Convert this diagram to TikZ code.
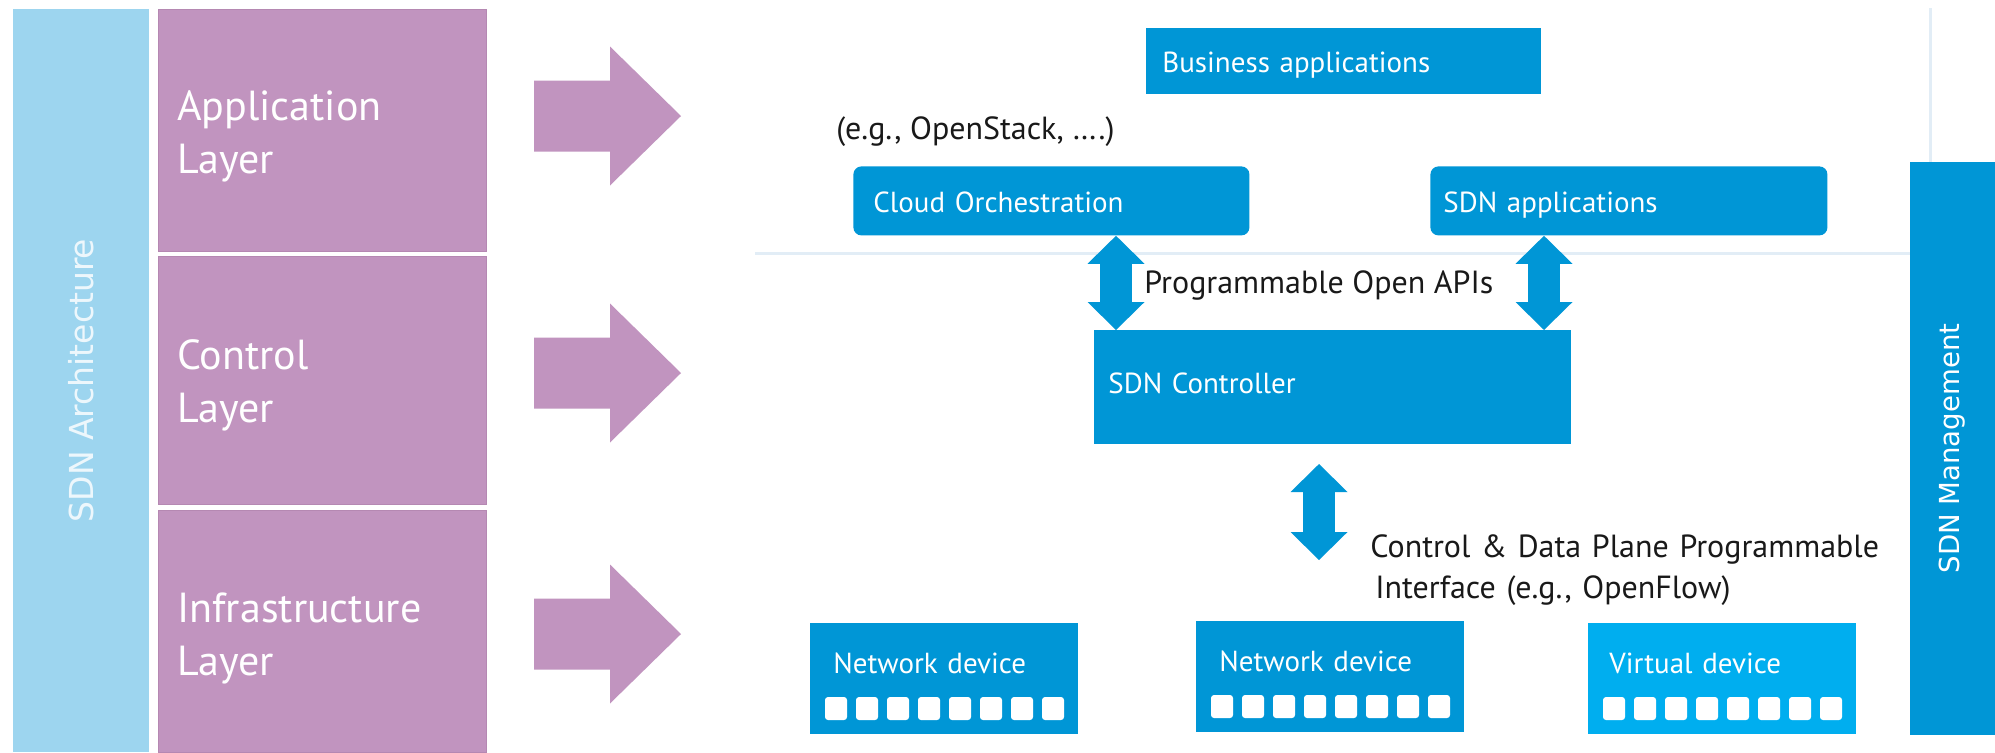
\documentclass[tikz,border=0pt]{standalone}
\usepackage{fontspec}
\setmainfont{PT Sans}
\newfontfamily\vfont{DejaVu Sans}
\usepackage{tikz}
\usetikzlibrary{arrows.meta}

\definecolor{hpblue}{HTML}{0096D6}
\definecolor{virtblue}{HTML}{00AEEF}
\definecolor{layerpurple}{HTML}{C194BF}
\definecolor{layeredge}{HTML}{B588B2}
\definecolor{archblue}{HTML}{9DD5EF}
\definecolor{archtext}{HTML}{EDF7FC}
\definecolor{sepgray}{HTML}{E2EDF6}

\begin{document}
\begin{tikzpicture}[x=0.5pt, y=-0.5pt,
    layerbox/.style={fill=layerpurple, draw=layeredge, line width=0.4pt, text=white,
      font=\fontsize{21}{26.5}\selectfont, anchor=north west, inner xsep=9.5pt,
      inner ysep=0pt, text width=145pt, align=left},
    appbox/.style={fill=hpblue, text=white, font=\fontsize{14.5}{17}\selectfont,
      anchor=north west, inner ysep=0pt, align=left},
    devbox/.style={appbox, inner xsep=11.5pt, text width=111pt,
      text height=25pt, text depth=30.5pt},
    port/.style={fill=white, rounded corners=1.5pt},
    note/.style={font=\fontsize{16}{20.5}\selectfont, text=black!90, inner sep=0pt},
    apiarrow/.style={draw=hpblue, line width=16pt,
      {Triangle[width=28.5pt,length=14pt,line width=0pt]}-{Triangle[width=28.5pt,length=14pt,line width=0pt]}},
    sepline/.style={draw=sepgray, line width=1.5pt}]
  \useasboundingbox (0,0) rectangle (1995,752);
  \fill[white] (0,0) rectangle (1995,752);

  % Capas
  \node[fill=archblue, text=archtext, font=\vfont\fontsize{16.5}{19}\selectfont, rotate=90,
    minimum width=371.5pt, minimum height=68pt, inner sep=0pt] (arch) at (81,380.5) {SDN Architecture};
  \node[layerbox, text height=55.5pt, text depth=65.5pt] (applayer) at (158,9) {Application\\Layer};
  \node[layerbox, text height=56.5pt, text depth=67.5pt] (ctllayer) at (158,256) {Control\\Layer};
  \node[layerbox, text height=56pt, text depth=65pt] (infralayer) at (158,510) {Infrastructure\\Layer};

  \foreach \y in {116,373,634}
    \fill[layerpurple] (534,\y-35.5) -- (610,\y-35.5) -- (610,\y-69.5) -- (681,\y)
      -- (610,\y+69.5) -- (610,\y+35.5) -- (534,\y+35.5) -- cycle;

  % Separadores
  \draw[sepline] (755,253) -- (1910,253);
  \draw[sepline] (1930,8) -- (1930,162);

  % Nodos
  \node[appbox, inner xsep=8pt, text width=181.5pt, text height=22pt, text depth=11pt] (biz) at (1146,28) {Business applications};
  \node[note, anchor=base west] (eg) at (836,139) {(e.g., OpenStack, ….)};
  \node[appbox, rounded corners=4pt, inner xsep=10pt, text width=178pt, text height=23pt, text depth=11.5pt] (cloud) at (853,166) {Cloud Orchestration};
  \node[appbox, rounded corners=4pt, inner xsep=6.5pt, text width=185.5pt, text height=23pt, text depth=11.5pt] (sdnapps) at (1430,166) {SDN applications};
  \node[note, anchor=base west] (apis) at (1144,293) {Programmable Open APIs};
  \node[appbox, inner xsep=7pt, text width=224.5pt, text height=31.5pt, text depth=25.5pt] (ctrl) at (1094,330) {SDN Controller};
  \node[note, anchor=base west, align=left, text width=260pt] (cdpi) at (1370,557)
    {Control \& Data Plane Programmable\\\hspace*{2.5pt}Interface (e.g., OpenFlow)};

  \node[devbox] (dev1) at (810,623) {Network device};
  \node[devbox] (dev2) at (1196,621) {Network device};
  \node[devbox, fill=virtblue, inner xsep=10.5pt, text width=113pt] (vdev) at (1588,623) {Virtual device};
  \foreach \d in {dev1,dev2,vdev}
    \foreach \i in {0,...,7}
      \fill[port] ([shift={(15+31*\i,74)}]\d.north west) rectangle ++(22,23);

  \node[fill=hpblue, text=white, font=\vfont\fontsize{13.8}{16}\selectfont, rotate=90,
    minimum width=286.5pt, minimum height=42.5pt, inner sep=0pt] (mgmt) at (1952.5,448.5) {SDN Management};

  % Flechas
  \coordinate (cptop) at (1319,464);
  \coordinate (cpbot) at (1319,560);
  \draw[apiarrow] (cloud.south -| 1116,0) -- (ctrl.north -| 1116,0);
  \draw[apiarrow] (sdnapps.south -| 1544,0) -- (ctrl.north -| 1544,0);
  \draw[apiarrow] (cptop) -- (cpbot);
\end{tikzpicture}
\end{document}
